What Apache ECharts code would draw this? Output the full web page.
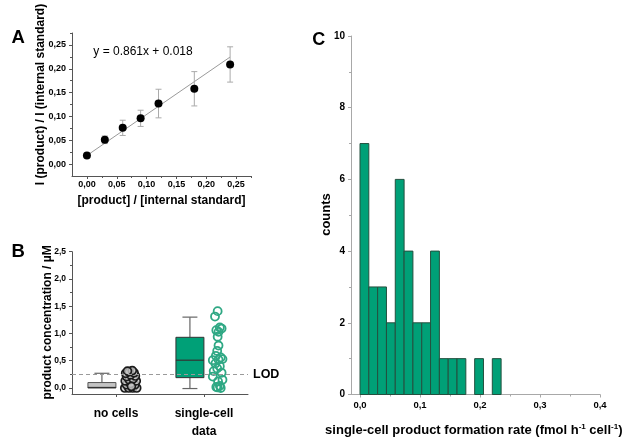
<!DOCTYPE html>
<html><head><meta charset="utf-8">
<script src="https://cdn.jsdelivr.net/npm/echarts@6/dist/echarts.min.js"></script>
<style>html,body{margin:0;padding:0;background:#fff}#c{width:626px;height:437px}</style>
</head><body><div id="c"></div>
<script>
// ---------- Panel A : calibration ----------
const stdX = [0, 0.03, 0.06, 0.09, 0.12, 0.18, 0.24];
const stdY = [0.018, 0.051, 0.076, 0.096, 0.127, 0.158, 0.209];
const stdErr = [0.002, 0.008, 0.016, 0.017, 0.030, 0.036, 0.037];
const fitLine = [[0, 0.018], [0.24, 0.2246]];
const fitText = 'y = 0.861x + 0.018';
const aTicks = [0, 0.05, 0.1, 0.15, 0.2, 0.25];
const aMinor = [0.025, 0.075, 0.125, 0.175, 0.225, 0.275];

// ---------- Panel B : box + scatter ----------
const bCategories = ['no cells', 'single-cell\ndata'];
const bCatPos = [1, 3];
// [center, min, q1, median, q3, max]
const bBoxes = [[0.68, 0, 0, 0.01, 0.10, 0.27], [2.68, -0.01, 0.19, 0.51, 0.93, 1.30]];
const noCells = [[1.20,0.0],[1.29,0.0],[1.38,0.0],[1.47,0.0],[1.24,0.06],[1.43,0.06],[1.33,0.08],[1.21,0.13],[1.46,0.13],[1.30,0.15],[1.39,0.17],[1.24,0.21],[1.44,0.22],[1.33,0.24],[1.22,0.27],[1.41,0.28],[1.30,0.30],[1.37,0.32],[1.26,0.31],[1.35,0.03]];
const singleCell = [[3.31,1.41],[3.25,1.31],[3.36,1.11],[3.28,1.06],[3.33,1.03],[3.40,1.09],[3.31,0.94],[3.33,0.78],[3.30,0.68],[3.27,0.59],[3.38,0.56],[3.20,0.51],[3.33,0.52],[3.42,0.53],[3.26,0.45],[3.36,0.40],[3.30,0.36],[3.22,0.31],[3.40,0.28],[3.20,0.21],[3.42,0.15],[3.32,0.12],[3.36,0.04],[3.31,0.01],[3.28,0.02],[3.38,0.0]];
const lod = 0.25;
const bTicks = [0, 0.5, 1, 1.5, 2, 2.5];
const bMinor = [0.25, 0.75, 1.25, 1.75, 2.25];

// ---------- Panel C : histogram ----------
const binStart = [0, 0.0147, 0.0294, 0.0441, 0.0588, 0.0735, 0.0882, 0.1029, 0.1176, 0.1323, 0.147, 0.1617, 0.1764, 0.1911, 0.2058, 0.2205];
const binWidth = 0.0147;
const counts = [7, 3, 3, 2, 6, 4, 2, 2, 4, 1, 1, 1, 0, 1, 0, 1];
const cXTicks = [0, 0.1, 0.2, 0.3, 0.4];
const cXMinor = [0.05, 0.15, 0.25, 0.35];

const FONT = '"Liberation Sans", Arial, sans-serif';
const comma = d => v => v.toFixed(d).replace('.', ',');

function mainAxis(o) {
  return Object.assign({
    type: 'value', splitLine: {show: false},
    axisLine: {show: true, onZero: false, lineStyle: {color: o.lc || '#555', width: 1}},
    axisTick: {show: true, length: 3, customValues: o.ticks, lineStyle: {color: o.lc || '#555'}},
    axisLabel: {show: true, customValues: o.ticks, formatter: o.fmt, margin: o.margin, hideOverlap: false,
      color: '#000', fontFamily: FONT, fontWeight: 'bold', fontSize: o.fs || 9, lineHeight: o.lh}
  }, {gridIndex: o.grid, min: o.min, max: o.max, position: o.pos});
}
function minorAxis(o) {
  return {type: 'value', gridIndex: o.grid, min: o.min, max: o.max, position: o.pos,
    splitLine: {show: false}, axisLine: {show: false, onZero: false},
    axisLabel: {show: false},
    axisTick: {show: true, length: 2, customValues: o.ticks, lineStyle: {color: o.lc || '#555'}}};
}

const boxColors = ['#c4c4c4', '#00a077'];
const boxBorders = ['#555', '#333'];

const option = {
  animation: false,
  backgroundColor: '#fff',
  grid: [
    {left: 72, top: 33, width: 179, height: 143, outerBoundsMode: 'none', containLabel: false},
    {left: 72, top: 251.7, width: 176, height: 142.3, outerBoundsMode: 'none', containLabel: false},
    {left: 351, top: 36, width: 249, height: 358.5, outerBoundsMode: 'none', containLabel: false}
  ],
  xAxis: [
    mainAxis({grid: 0, min: -0.025, max: 0.275, pos: 'bottom', ticks: aTicks, fmt: comma(2), margin: 4}),
    minorAxis({grid: 0, min: -0.025, max: 0.275, pos: 'bottom', ticks: aMinor}),
    mainAxis({grid: 1, min: 0, max: 4, pos: 'bottom', ticks: bCatPos,
      fmt: v => bCategories[bCatPos.indexOf(v)] || '', margin: 11, fs: 12, lh: 18}),
    mainAxis({grid: 2, min: -0.015, max: 0.4, pos: 'bottom', ticks: cXTicks, fmt: comma(1), margin: 6, lc: '#a8a8a8', fs: 9.5}),
    minorAxis({grid: 2, min: -0.015, max: 0.4, pos: 'bottom', ticks: cXMinor, lc: '#a8a8a8'})
  ],
  yAxis: [
    mainAxis({grid: 0, min: -0.025, max: 0.275, pos: 'left', ticks: aTicks, fmt: comma(2), margin: 6}),
    minorAxis({grid: 0, min: -0.025, max: 0.275, pos: 'left', ticks: aMinor}),
    mainAxis({grid: 1, min: -0.11, max: 2.5, pos: 'left', ticks: bTicks, fmt: comma(1), margin: 6, fs: 8.5}),
    minorAxis({grid: 1, min: -0.11, max: 2.5, pos: 'left', ticks: bMinor}),
    {type: 'value', gridIndex: 2, min: 0, max: 10, interval: 2, position: 'left',
      splitLine: {show: false},
      axisLine: {show: true, onZero: false, lineStyle: {color: '#a8a8a8'}},
      axisTick: {show: true, length: 3, lineStyle: {color: '#a8a8a8'}},
      minorTick: {show: true, splitNumber: 2, length: 2, lineStyle: {color: '#a8a8a8'}},
      axisLabel: {margin: 6, color: '#000', fontFamily: FONT, fontWeight: 'bold', fontSize: 10}}
  ],
  series: [
    {type: 'line', xAxisIndex: 0, yAxisIndex: 0, data: fitLine, symbol: 'none',
      lineStyle: {color: '#9a9a9a', width: 1}, z: 2},
    {type: 'custom', xAxisIndex: 0, yAxisIndex: 0, z: 3,
      data: stdX.map((x, i) => [x, stdY[i], stdErr[i]]),
      renderItem: (p, api) => {
        const x = api.value(0), y = api.value(1), e = api.value(2);
        const t = api.coord([x, y + e]), b = api.coord([x, y - e]);
        const st = {stroke: '#aaa', lineWidth: 1};
        return {type: 'group', children: [
          {type: 'line', shape: {x1: t[0], y1: t[1], x2: b[0], y2: b[1]}, style: st},
          {type: 'line', shape: {x1: t[0] - 3, y1: t[1], x2: t[0] + 3, y2: t[1]}, style: st},
          {type: 'line', shape: {x1: b[0] - 3, y1: b[1], x2: b[0] + 3, y2: b[1]}, style: st}
        ]};
      }},
    {type: 'scatter', xAxisIndex: 0, yAxisIndex: 0, z: 4,
      data: stdX.map((x, i) => [x, stdY[i]]), symbolSize: 8, itemStyle: {color: '#000', opacity: 1}},

    {type: 'custom', xAxisIndex: 2, yAxisIndex: 2, z: 3, data: bBoxes,
      renderItem: (p, api) => {
        const c = api.value(0), mn = api.value(1), q1 = api.value(2), md = api.value(3), q3 = api.value(4), mx = api.value(5);
        const hw = 0.318, cw = 0.17;
        const tl = api.coord([c - hw, q3]), br = api.coord([c + hw, q1]);
        const pMd1 = api.coord([c - hw, md]), pMd2 = api.coord([c + hw, md]);
        const pTop = api.coord([c, mx]), pQ3 = api.coord([c, q3]), pQ1 = api.coord([c, q1]), pBot = api.coord([c, mn]);
        const capL = api.coord([c - cw, 0])[0], capR = api.coord([c + cw, 0])[0];
        const ws = {stroke: '#666', lineWidth: 1.2};
        const ch = [
          {type: 'line', shape: {x1: pTop[0], y1: pTop[1], x2: pQ3[0], y2: pQ3[1]}, style: ws},
          {type: 'line', shape: {x1: capL, y1: pTop[1], x2: capR, y2: pTop[1]}, style: ws}
        ];
        if (mn < q1) {
          ch.push({type: 'line', shape: {x1: pQ1[0], y1: pQ1[1], x2: pBot[0], y2: pBot[1]}, style: ws});
          ch.push({type: 'line', shape: {x1: capL, y1: pBot[1], x2: capR, y2: pBot[1]}, style: ws});
        }
        ch.push({type: 'rect', shape: {x: tl[0], y: tl[1], width: br[0] - tl[0], height: br[1] - tl[1]},
          style: {fill: boxColors[p.dataIndex], stroke: boxBorders[p.dataIndex], lineWidth: 1}});
        ch.push({type: 'line', shape: {x1: pMd1[0], y1: pMd1[1], x2: pMd2[0], y2: pMd2[1]}, style: {stroke: '#333', lineWidth: 1.2}});
        return {type: 'group', children: ch};
      }},
    {type: 'scatter', xAxisIndex: 2, yAxisIndex: 2, z: 4, data: noCells, symbolSize: 8,
      itemStyle: {color: 'rgba(200,200,200,0.8)', borderColor: '#1a1a1a', borderWidth: 1.7, opacity: 1}},
    {type: 'scatter', xAxisIndex: 2, yAxisIndex: 2, z: 4, data: singleCell, symbolSize: 8,
      itemStyle: {color: 'rgba(255,255,255,0)', borderColor: '#2fa884', borderWidth: 1.8, opacity: 1},
      markLine: {silent: true, symbol: ['none', 'none'], data: [{yAxis: lod}],
        lineStyle: {type: [4, 3], color: '#9a9a9a', width: 1},
        label: {show: true, position: 'end', formatter: 'LOD', distance: 5,
          color: '#000', fontFamily: FONT, fontWeight: 'bold', fontSize: 12.5}}},

    {type: 'custom', xAxisIndex: 3, yAxisIndex: 4, z: 3,
      data: binStart.map((x, i) => [x, counts[i]]),
      renderItem: (p, api) => {
        const x = api.value(0), n = api.value(1);
        if (!n) return null;
        const a = api.coord([x, n]), b = api.coord([x + binWidth, 0]);
        return {type: 'rect', shape: {x: a[0], y: a[1], width: b[0] - a[0], height: b[1] - a[1]},
          style: {fill: '#00a077', stroke: '#24503f', lineWidth: 1}};
      }}
  ],
  graphic: [
    txt('A', 18.3, 38.3, 'bold 18.5px ' + FONT),
    txt('B', 18.3, 251.7, 'bold 18.5px ' + FONT),
    txt('C', 318.8, 39.7, 'bold 18px ' + FONT),
    txt(fitText, 93.3, 52, '12px ' + FONT, 'left'),
    txt('[product] / [internal standard]', 161.5, 201, 'bold 12px ' + FONT),
    txt('I (product) / I (internal standard)', 40.5, 94.5, 'bold 12px ' + FONT, 'center', Math.PI / 2),
    txt('product concentration / µM', 48, 322.5, 'bold 12px ' + FONT, 'center', Math.PI / 2),
    txt('counts', 326.7, 214.5, 'bold 13px ' + FONT, 'center', Math.PI / 2),
    {type: 'text', x: 473.8, y: 430.7, z: 10, style: {
      text: '{m|single-cell product formation rate (fmol h}{s|-1}{m| cell}{s|-1}{m|)}',
      align: 'center', verticalAlign: 'middle', textAlign: 'center', textVerticalAlign: 'middle',
      fill: '#000',
      rich: {
        m: {font: 'bold 13px ' + FONT, fill: '#000', lineHeight: 16},
        s: {font: 'bold 8px ' + FONT, fill: '#000', verticalAlign: 'top', lineHeight: 16}
      }}}
  ]
};

function txt(t, x, y, font, align, rot) {
  return {type: 'text', x: x, y: y, rotation: rot || 0, z: 10,
    style: {text: t, font: font, fill: '#000', align: align || 'center', verticalAlign: 'middle',
      textAlign: align || 'center', textVerticalAlign: 'middle'}};
}

const chart = echarts.init(document.getElementById('c'), null, {renderer: 'canvas'});
chart.setOption(option);
</script>
</body></html>
